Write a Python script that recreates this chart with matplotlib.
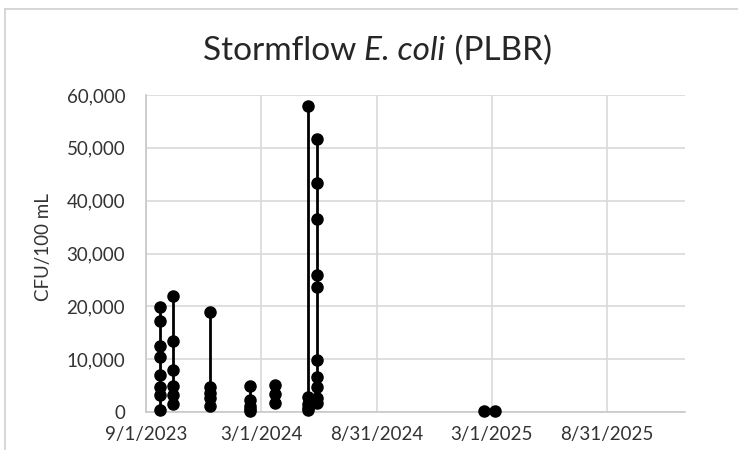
"""Stormflow E. coli at PLBR: sample results per storm event."""

import matplotlib
matplotlib.use("Agg")
import matplotlib.pyplot as plt
from matplotlib.lines import Line2D
from matplotlib.ticker import FuncFormatter
import numpy as np
import pandas as pd

plt.rcParams["font.family"] = ["Lato", "DejaVu Sans"]

# one date per storm event, one row per sample
sample_dates = (
    ["2023-09-23"] * 8
    + ["2023-10-14"] * 6
    + ["2023-12-11"] * 5
    + ["2024-02-12"] * 5
    + ["2024-03-23"] * 3
    + ["2024-05-15"] * 5
    + ["2024-05-29"] * 10
    + ["2025-02-17"]
    + ["2025-03-07"]
)
cfu = [
    19900, 17300, 12400, 10400, 7000, 4800, 3200, 400,
    22000, 13500, 7900, 4900, 3200, 1500,
    19000, 4800, 3600, 2600, 1200,
    4900, 2200, 1100, 500, 100,
    5100, 3400, 1700,
    57900, 2900, 1500, 800, 300,
    51700, 43400, 36500, 26000, 23700, 9800, 6700, 4700, 2600, 1700,
    150,
    150,
]

tick_dates = ["2023-09-01", "2024-03-01", "2024-08-31", "2025-03-01", "2025-08-31"]
tick_labels = ["9/1/2023", "3/1/2024", "8/31/2024", "3/1/2025", "8/31/2025"]
x_range = ["2023-09-01", "2026-01-01"]

df = pd.DataFrame({"date": pd.to_datetime(sample_dates), "cfu": cfu})

fig = plt.figure(figsize=(7.38, 4.5), dpi=100)
ax = fig.add_axes([146 / 738, 1 - 412 / 450, (685 - 146) / 738, (412 - 95) / 450])

grid_c = "#d9d9d9"
text_c = "#333333"

for d, grp in df.groupby("date"):
    ax.plot(grp["date"], grp["cfu"], color="black", lw=2.0, marker="o",
            ms=8, mfc="black", mec="black", zorder=5, clip_on=False)

ax.set_xlim(pd.to_datetime(x_range[0]), pd.to_datetime(x_range[1]))
ax.set_ylim(0, 60000)
ax.set_xticks(pd.to_datetime(tick_dates))
ax.set_xticklabels(tick_labels)
ax.set_yticks(np.arange(0, 60001, 10000))
ax.yaxis.set_major_formatter(FuncFormatter(lambda v, p: f"{v:,.0f}"))

ax.grid(True, color=grid_c, lw=1.2)
ax.set_axisbelow(True)
for s in ["top", "right"]:
    ax.spines[s].set_visible(False)
for s in ["left", "bottom"]:
    ax.spines[s].set_color("#c8c8c8")
    ax.spines[s].set_linewidth(1.2)
ax.tick_params(length=0, labelsize=13.5, colors=text_c)
ax.tick_params(axis="x", pad=10)
ax.tick_params(axis="y", pad=15)

fig.text(43 / 738, 1 - 247 / 450, "CFU/100 mL", rotation=90, ha="center",
         va="center", fontsize=13.5, color=text_c)

# title with italic species name
fig.canvas.draw()
renderer = fig.canvas.get_renderer()
parts = [("Stormflow ", "normal"), ("E. coli", "italic"), (" (PLBR)", "normal")]
texts = []
for s, style in parts:
    t = fig.text(0, 1 - 51 / 450, s, fontsize=24, style=style, color="#262626",
                 ha="left", va="center")
    texts.append(t)
widths = [t.get_window_extent(renderer).width for t in texts]
x0 = 377 - sum(widths) / 2
for t, w in zip(texts, widths):
    t.set_x(x0 / 738)
    x0 += w

# chart frame edges (left and top)
fig.add_artist(Line2D([5 / 738, 5 / 738], [0, 1 - 9 / 450], color="#d0d0d0", lw=1.2))
fig.add_artist(Line2D([5 / 738, 1], [1 - 9 / 450, 1 - 9 / 450], color="#d0d0d0", lw=1.2))

fig.savefig("out.png", dpi=100)
